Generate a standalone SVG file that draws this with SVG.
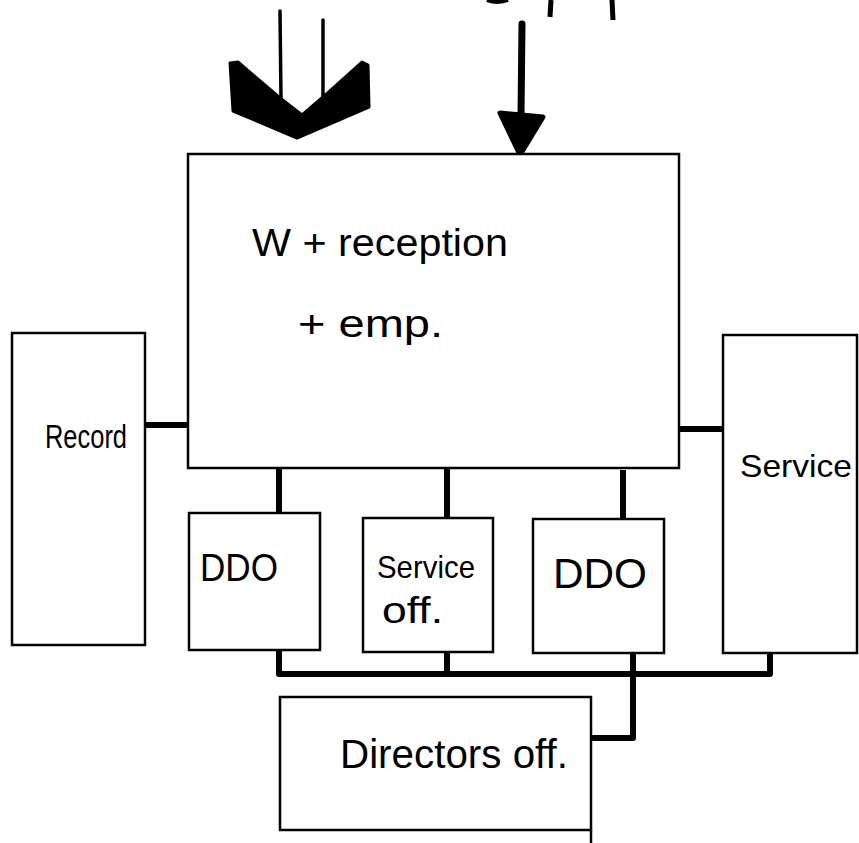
<svg xmlns="http://www.w3.org/2000/svg" width="859" height="843" viewBox="0 0 859 843">
<style>
.box{fill:#fff;stroke:#000;stroke-width:2.5}
.lbl{font-family:"Liberation Sans",Arial,sans-serif;fill:#000}
.con{stroke:#000;stroke-width:6;fill:none;stroke-linejoin:round}
.thin{stroke:#000;stroke-width:3.5;fill:none;stroke-linecap:round}
</style>
<rect width="859" height="843" fill="#fff"/>
<g id="connectors">
<line class="con" x1="145" y1="425" x2="188" y2="425"/>
<line class="con" x1="679" y1="429" x2="723" y2="429"/>
<line class="con" x1="279" y1="468" x2="279" y2="513"/>
<line class="con" x1="447" y1="469" x2="447" y2="518"/>
<line class="con" x1="623" y1="470" x2="623" y2="519"/>
<path class="con" d="M279 650 V674 H770 V653"/>
<line class="con" x1="447" y1="652" x2="447" y2="674"/>
<path class="con" d="M633 653 V738 H591"/>
</g>
<g id="inputs">
<line class="thin" x1="280" y1="11" x2="281" y2="100"/>
<line class="thin" x1="323" y1="20" x2="323" y2="97"/>
<polygon points="230,63 238,62 280,98 302,115 323,97 362,62 368,65 369,107 297,138 233,111" fill="#000" stroke="#000" stroke-width="3" stroke-linejoin="round"/>
<line x1="522" y1="24" x2="521" y2="115" stroke="#000" stroke-width="7" stroke-linecap="round"/>
<polygon points="500,113 543,117 520,155" fill="#000" stroke="#000" stroke-width="5" stroke-linejoin="round"/>
<path d="M487 0 Q498 4 508 0" stroke="#000" stroke-width="4" fill="none"/>
<line x1="551" y1="0" x2="550" y2="17" stroke="#000" stroke-width="5"/>
<line x1="612" y1="0" x2="613" y2="20" stroke="#000" stroke-width="5"/>
</g>
<g id="main">
<rect class="box" x="188" y="154" width="491" height="314"/>
<text class="lbl" x="252" y="256" font-size="38" textLength="256" lengthAdjust="spacingAndGlyphs">W + reception</text>
<text class="lbl" x="298" y="337" font-size="38" textLength="145" lengthAdjust="spacingAndGlyphs">+ emp.</text>
</g>
<g id="record">
<rect class="box" x="12" y="333" width="133" height="312"/>
<text class="lbl" x="45" y="448" font-size="34" textLength="82" lengthAdjust="spacingAndGlyphs">Record</text>
</g>
<g id="service">
<rect class="box" x="723" y="335" width="134" height="318"/>
<text class="lbl" x="740" y="477" font-size="32" textLength="112" lengthAdjust="spacingAndGlyphs">Service</text>
</g>
<g id="ddo1">
<rect class="box" x="189" y="513" width="131" height="137"/>
<text class="lbl" x="200" y="581" font-size="38" textLength="78" lengthAdjust="spacingAndGlyphs">DDO</text>
</g>
<g id="serviceoff">
<rect class="box" x="363" y="518" width="130" height="134"/>
<text class="lbl" x="377" y="578" font-size="32" textLength="98" lengthAdjust="spacingAndGlyphs">Service</text>
<text class="lbl" x="382" y="623" font-size="36" textLength="61" lengthAdjust="spacingAndGlyphs">off.</text>
</g>
<g id="ddo2">
<rect class="box" x="533" y="519" width="131" height="134"/>
<text class="lbl" x="553" y="588" font-size="42" textLength="94" lengthAdjust="spacingAndGlyphs">DDO</text>
</g>
<g id="directors">
<rect class="box" x="280" y="697" width="311" height="133"/>
<line x1="591" y1="830" x2="591" y2="843" stroke="#000" stroke-width="2.5"/>
<text class="lbl" x="340" y="768" font-size="40" textLength="228" lengthAdjust="spacingAndGlyphs">Directors off.</text>
</g>
</svg>
